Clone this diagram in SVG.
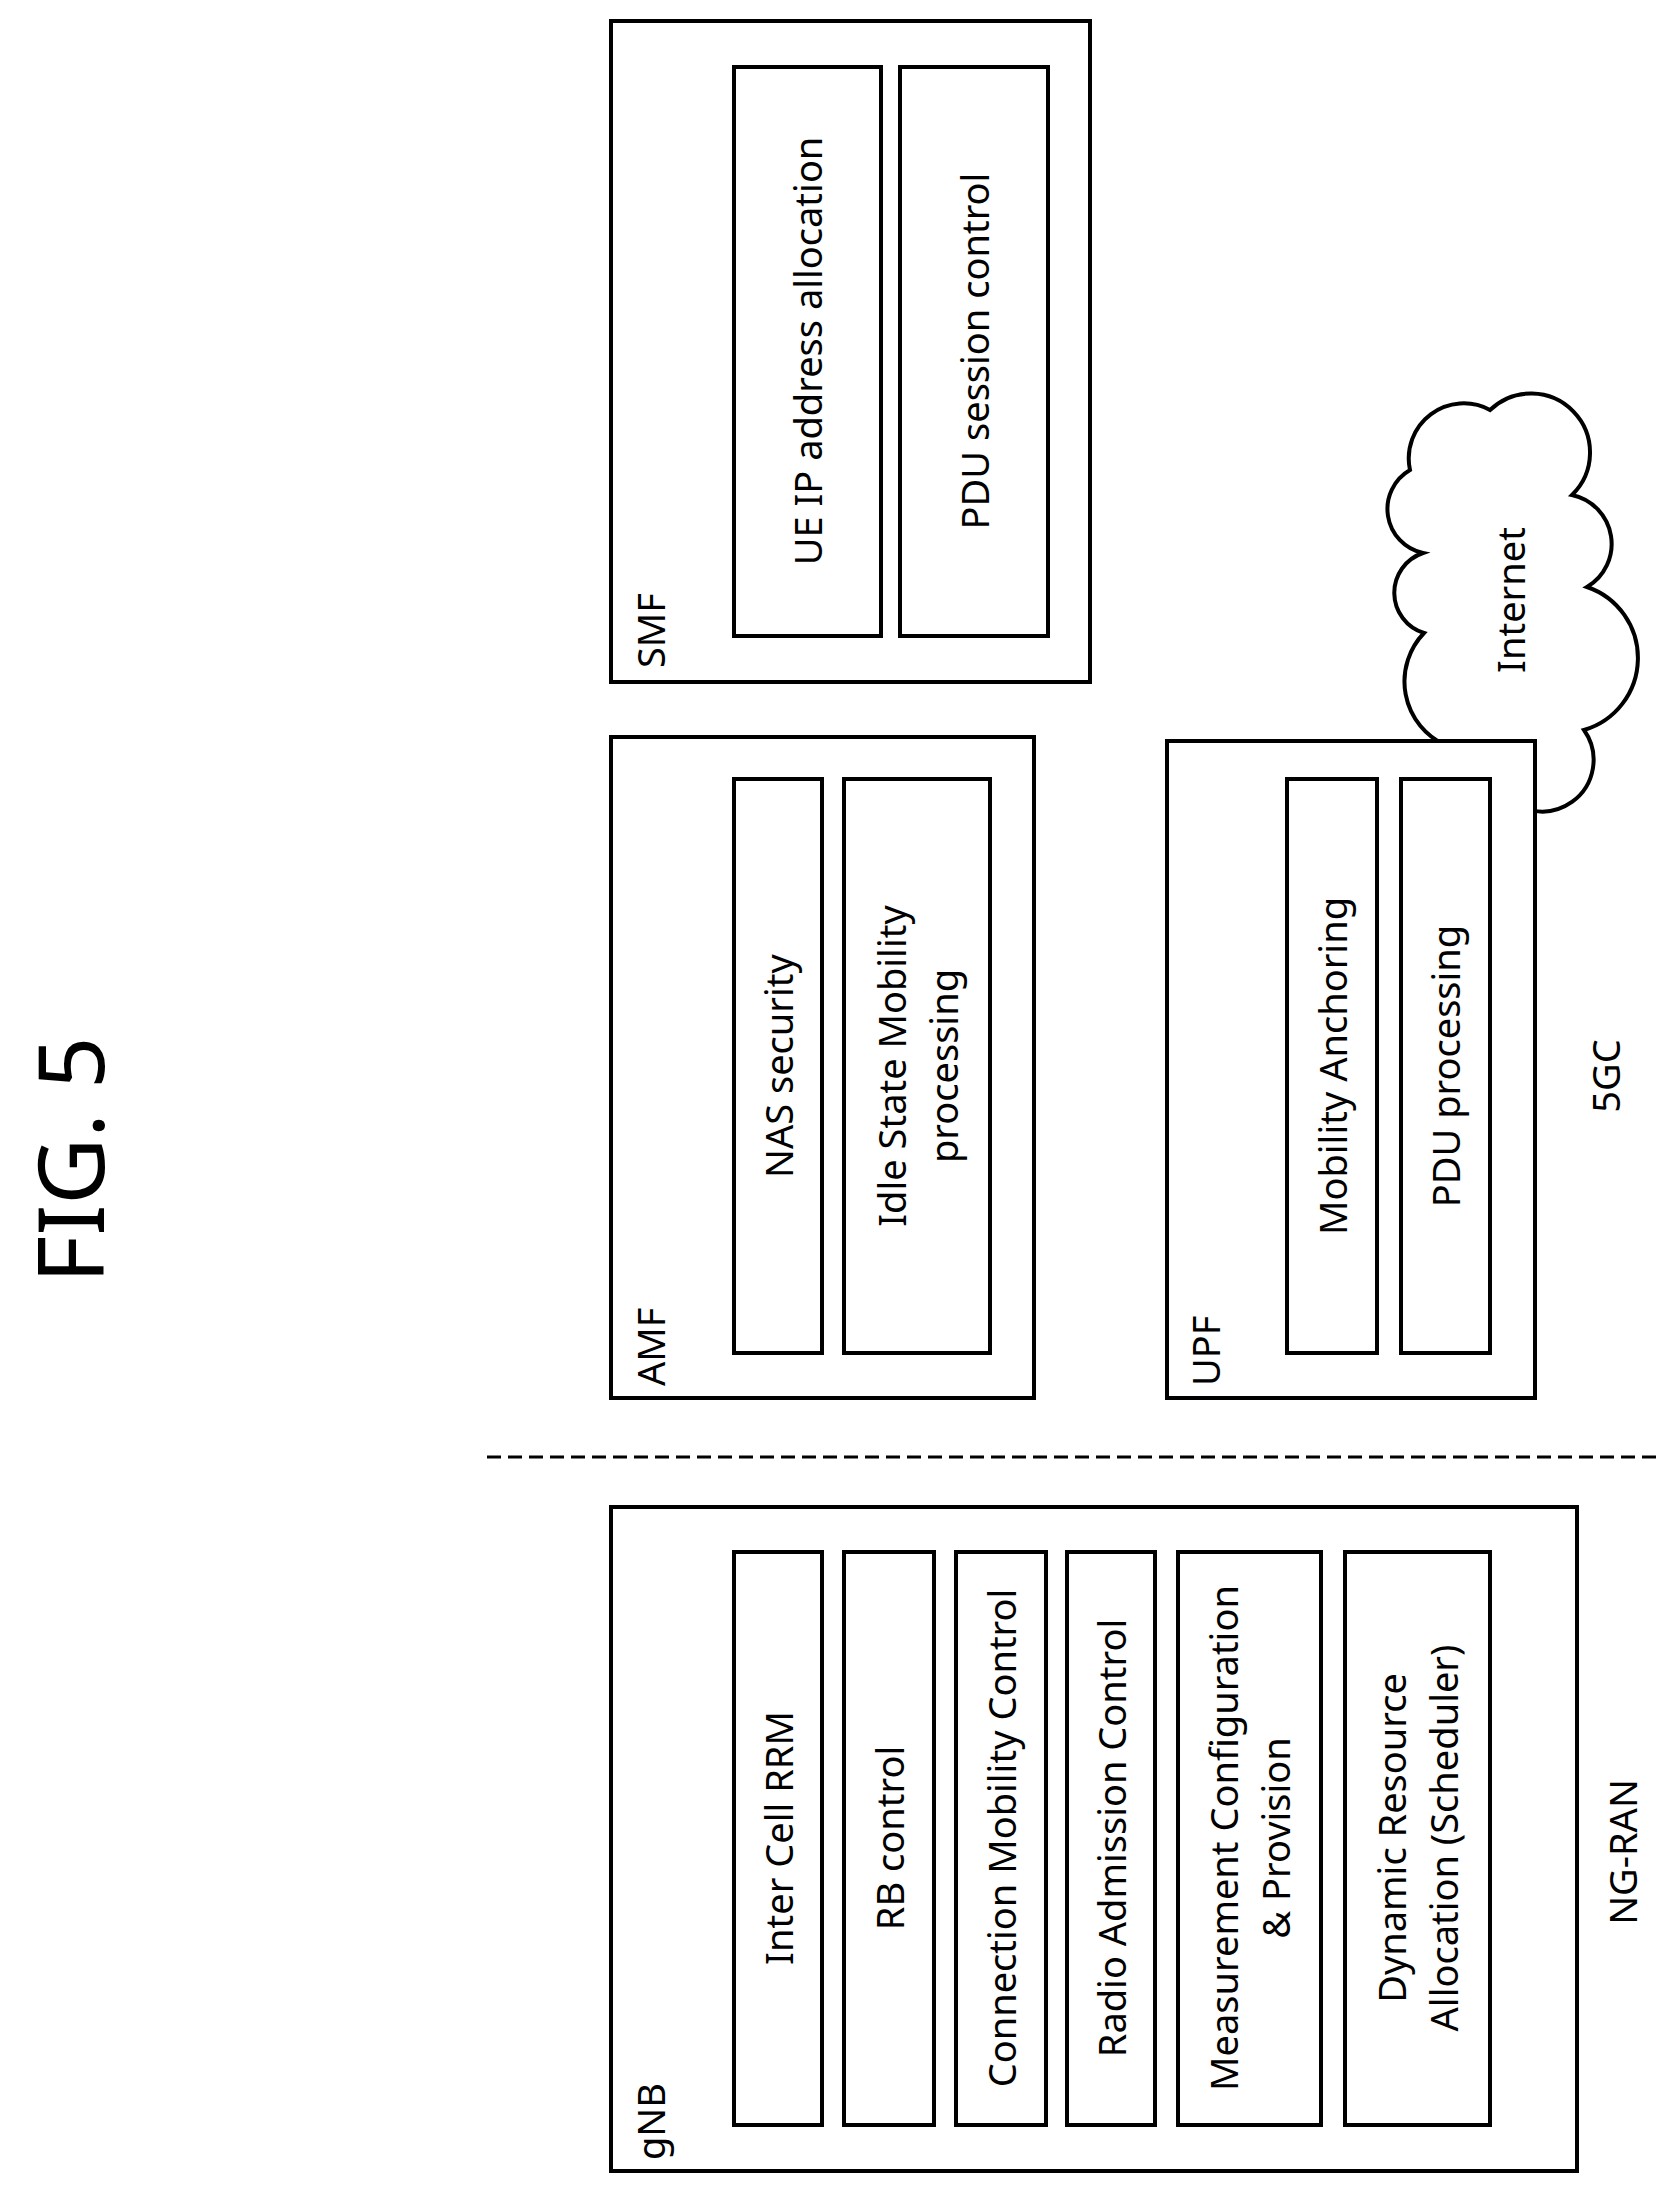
<svg xmlns="http://www.w3.org/2000/svg" width="1678" height="2190" viewBox="0 0 1678 2190">
<style>
rect{fill:#fff;stroke:#000;stroke-width:4}
text{font-family:"Noto Sans","DejaVu Sans",sans-serif;font-size:38px;fill:#000}
.c{text-anchor:middle;dominant-baseline:central}
.l{text-anchor:start;dominant-baseline:central}
</style>
<rect width="1678" height="2190" style="stroke:none"/>
<text class="c" transform="translate(68,1160) rotate(-90)" style="font-size:92px">FIG. 5</text>
<g id="connectors">
<line x1="487" y1="1457" x2="1657" y2="1457" stroke="#000" stroke-width="3" stroke-dasharray="14,7"/>
</g>
<g id="internet">
<path d="M1500,790 A42,42 0 0 0 1584,730 A75,75 0 0 0 1587,587 A50,50 0 0 0 1572,495 A55,55 0 0 0 1490,410 A55,55 0 0 0 1410,470 A45,45 0 0 0 1423,553 A42,42 0 0 0 1424,633 A70,70 0 0 0 1445,745 Z" fill="#fff" stroke="#000" stroke-width="4"/>
<text class="c" transform="translate(1510,600) rotate(-90)">Internet</text>
</g>
<g id="smf">
<rect x="611" y="21" width="479" height="661"/>
<text class="l" transform="translate(650,668) rotate(-90)">SMF</text>
<rect x="734" y="67" width="147" height="569"/>
<text class="c" transform="translate(807,351) rotate(-90)">UE IP address allocation</text>
<rect x="900" y="67" width="148" height="569"/>
<text class="c" transform="translate(974,351) rotate(-90)">PDU session control</text>
</g>
<g id="amf">
<rect x="611" y="737" width="423" height="661"/>
<text class="l" transform="translate(650,1386) rotate(-90)">AMF</text>
<rect x="734" y="779" width="88" height="574"/>
<text class="c" transform="translate(778,1066) rotate(-90)">NAS security</text>
<rect x="844" y="779" width="146" height="574"/>
<text class="c" transform="translate(917,1066) rotate(-90)"><tspan x="0" dy="-26">Idle State Mobility</tspan><tspan x="0" dy="52">processing</tspan></text>
</g>
<g id="upf">
<rect x="1167" y="741" width="368" height="657"/>
<text class="l" transform="translate(1205,1386) rotate(-90)">UPF</text>
<rect x="1287" y="779" width="90" height="574"/>
<text class="c" transform="translate(1332,1066) rotate(-90)">Mobility Anchoring</text>
<rect x="1401" y="779" width="89" height="574"/>
<text class="c" transform="translate(1445,1066) rotate(-90)">PDU processing</text>
</g>
<text class="c" transform="translate(1605,1076) rotate(-90)">5GC</text>
<g id="gnb">
<rect x="611" y="1507" width="966" height="664"/>
<text class="l" transform="translate(650,2160) rotate(-90)">gNB</text>
<rect x="734" y="1552" width="88" height="573"/>
<text class="c" transform="translate(778,1838) rotate(-90)">Inter Cell RRM</text>
<rect x="844" y="1552" width="90" height="573"/>
<text class="c" transform="translate(889,1838) rotate(-90)">RB control</text>
<rect x="956" y="1552" width="90" height="573"/>
<text class="c" transform="translate(1001,1838) rotate(-90)">Connection Mobility Control</text>
<rect x="1067" y="1552" width="88" height="573"/>
<text class="c" transform="translate(1111,1838) rotate(-90)">Radio Admission Control</text>
<rect x="1178" y="1552" width="143" height="573"/>
<text class="c" transform="translate(1249,1838) rotate(-90)"><tspan x="0" dy="-26">Measurement Configuration</tspan><tspan x="0" dy="52">&amp; Provision</tspan></text>
<rect x="1345" y="1552" width="145" height="573"/>
<text class="c" transform="translate(1417,1838) rotate(-90)"><tspan x="0" dy="-26">Dynamic Resource</tspan><tspan x="0" dy="52">Allocation (Scheduler)</tspan></text>
</g>
<text class="c" transform="translate(1622,1852) rotate(-90)">NG-RAN</text>
</svg>
